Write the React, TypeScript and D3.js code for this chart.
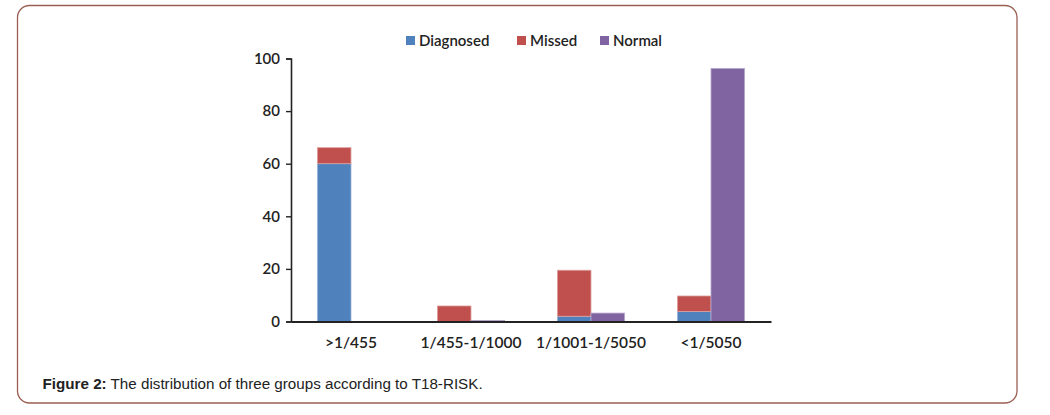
import React from 'react';
import * as d3 from 'd3';

const width = 1050;
const height = 415;
const plot = {left: 291, right: 771, top: 58.5, bottom: 321.5};

const blue = '#4f81bd';
const red = '#c0504d';
const purple = '#8064a2';

const categories = ['>1/455', '1/455-1/1000', '1/1001-1/5050', '<1/5050'];
const diagnosed = [60, 0, 2, 3.8];
const missed = [6.1, 5.9, 17.5, 5.9];
const normal = [0, 0.4, 3.2, 96.2];
const yTicks = [0, 20, 40, 60, 80, 100];

const legendItems = [
  {name: 'Diagnosed', color: blue, x: 406},
  {name: 'Missed', color: red, x: 517},
  {name: 'Normal', color: purple, x: 600},
];

const chartFont = 'Lato, "Open Sans", sans-serif';

const App: React.FC = () => {
  const xAxisRef = React.useRef<SVGGElement>(null);
  const yAxisRef = React.useRef<SVGGElement>(null);

  const xScale = d3.scaleBand<string>()
    .domain(categories)
    .range([plot.left, plot.right])
    .paddingInner(0.44)
    .paddingOuter(0.22);

  const inner = d3.scaleBand<string>()
    .domain(['stack', 'normal'])
    .range([0, xScale.bandwidth()]);

  const yScale = d3.scaleLinear()
    .domain([0, 100])
    .range([plot.bottom, plot.top]);

  React.useEffect(() => {
    if (yAxisRef.current) {
      const g = d3.select(yAxisRef.current);
      g.call(d3.axisLeft(yScale).tickValues(yTicks).tickSize(5).tickPadding(6).tickFormat(d3.format('d')));
      g.select('.domain').attr('stroke', '#222').attr('stroke-width', 1.6);
      g.selectAll('.tick line').attr('stroke', '#222').attr('stroke-width', 1.4);
      g.selectAll('.tick text')
        .attr('font-family', chartFont)
        .attr('font-size', 15)
        .attr('font-weight', 600)
        .attr('fill', '#222');
    }
    if (xAxisRef.current) {
      const g = d3.select(xAxisRef.current);
      g.call(d3.axisBottom(xScale).tickSize(0).tickPadding(15));
      g.select('.domain').attr('stroke', '#222').attr('stroke-width', 1.8);
      g.selectAll('.tick text')
        .attr('font-family', chartFont)
        .attr('font-size', 15.5)
        .attr('font-weight', 600)
        .attr('fill', '#222');
    }
  }, []);

  return (
    <svg width={width} height={height} style={{position: 'absolute', left: 0, top: 0, background: '#fff'}}>
      <rect x={17.5} y={5.5} width={999.5} height={397.5} rx={12} ry={12}
        fill='#fff' stroke='#9a5f53' strokeWidth={1.3} />

      {categories.map((c, i) => {
        const x0 = (xScale(c) || 0);
        const xs = x0 + (inner('stack') || 0);
        const xn = x0 + (inner('normal') || 0);
        const bw = inner.bandwidth();
        return (
          <g key={c}>
            <rect x={xs} y={yScale(diagnosed[i])} width={bw}
              height={yScale(0) - yScale(diagnosed[i])} fill={blue} stroke='#9bb4d8' strokeWidth={0.8} />
            <rect x={xs} y={yScale(diagnosed[i] + missed[i])} width={bw}
              height={yScale(diagnosed[i]) - yScale(diagnosed[i] + missed[i])} fill={red} stroke='#dca2a0' strokeWidth={0.8} />
            <rect x={xn} y={yScale(normal[i])} width={bw}
              height={yScale(0) - yScale(normal[i])} fill={purple} stroke='#b6a6cc' strokeWidth={0.8} />
          </g>
        );
      })}

      <g ref={yAxisRef} transform={`translate(${plot.left}, 0)`} />
      <g ref={xAxisRef} transform={`translate(0, ${plot.bottom})`} />

      {legendItems.map(item => (
        <g key={item.name}>
          <rect x={item.x} y={36} width={9} height={9} fill={item.color} />
          <text x={item.x + 13} y={45.5} fontFamily={chartFont} fontSize={15} fontWeight={600} fill='#222'>
            {item.name}
          </text>
        </g>
      ))}

      <text x={42.5} y={389} fontFamily='"Liberation Sans", Arial, sans-serif' fontSize={15.2} fill='#222'>
        <tspan fontWeight='bold'>Figure 2:</tspan>
        <tspan> The distribution of three groups according to T18-RISK.</tspan>
      </text>
    </svg>
  );
};

export default App;
